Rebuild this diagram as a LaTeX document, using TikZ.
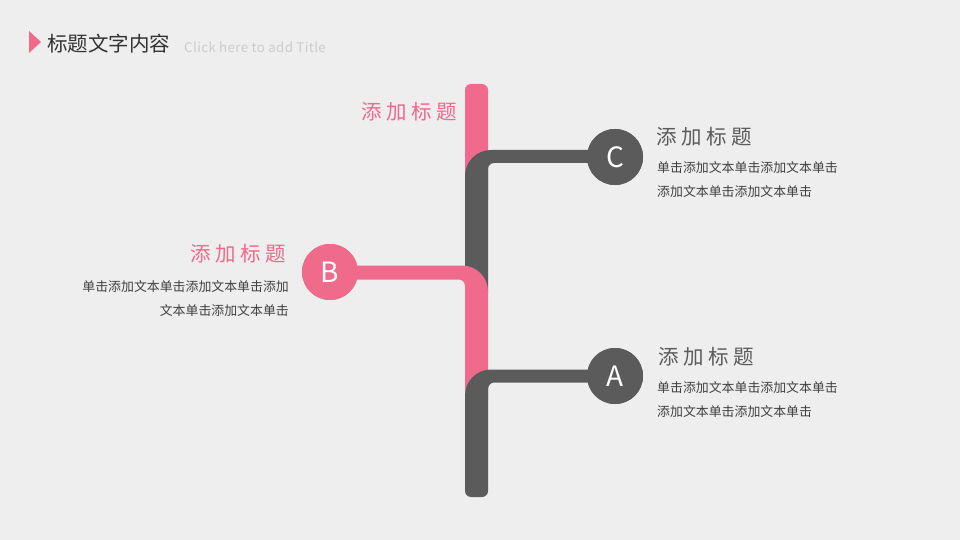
\documentclass[tikz,border=0pt]{standalone}
\usepackage{fontspec}
\setmainfont{Noto Sans CJK SC}
\newfontfamily\cjksp[LetterSpace=22]{Noto Sans CJK SC}
\newfontfamily\latsp[LetterSpace=3]{Noto Sans CJK SC}
\definecolor{pinkc}{HTML}{F06A8B}
\definecolor{grayc}{HTML}{5B5B5B}
\definecolor{bgc}{HTML}{EEEEEE}
\definecolor{bodyc}{HTML}{404040}
\tikzset{
  x=1pt,y=-1pt,
  dot/.style={circle,minimum size=56pt,inner sep=0pt,text=white,font=\fontsize{28}{28}\selectfont},
  head/.style={inner sep=0pt,font=\cjksp\fontsize{20.5}{20.5}\selectfont},
  body/.style={inner sep=0pt,text=bodyc,font=\fontsize{12.9}{24.5}\selectfont,align=left},
}
\begin{document}
\begin{tikzpicture}
\fill[bgc] (0,0) rectangle (960,540);
\useasboundingbox (0,0) rectangle (960,540);
% title
\fill[pinkc] (29,31) -- (41,42) -- (29,53) -- cycle;
\node[anchor=west,inner sep=0pt,text=black!80,font=\fontsize{20.5}{20.5}\selectfont] (ttl) at (47,44) {标题文字内容};
\node[anchor=west,inner sep=0pt,text=black!20,font=\latsp\fontsize{13.3}{13.3}\selectfont] (sub) at (184,47) {Click here to add Title};
% spine pieces
\fill[pinkc] (465,200) -- (465,90) .. controls (465,86.7) and (467.7,84) .. (471,84) -- (482,84) .. controls (485.3,84) and (488,86.7) .. (488,90) -- (488,200) -- cycle;
\node[dot,fill=grayc] (C) at (615,157) {C};
\node[dot,fill=pinkc] (B) at (330,272) {B};
\node[dot,fill=grayc] (A) at (615,376) {A};
\fill[grayc] (465,293) -- (465,176) .. controls (465,161.6) and (476.6,150) .. (491,150) -- (615,150) -- (615,163) -- (494,163) .. controls (490.7,163) and (488,165.7) .. (488,169) -- (488,293) -- cycle;
\node[dot,fill=grayc] at (C) {C};
\fill[pinkc] (330,265.5) -- (462,265.5) .. controls (476.4,265.5) and (488,277.1) .. (488,291.5) -- (488,400) -- (465,400) -- (465,286) .. controls (465,282.7) and (462.3,279.5) .. (459,279.5) -- (330,279.5) -- cycle;
\node[dot,fill=pinkc] at (B) {B};
\fill[grayc] (615,369.5) -- (491,369.5) .. controls (476.6,369.5) and (465,381.1) .. (465,395.5) -- (465,491) .. controls (465,494.3) and (467.7,497) .. (471,497) -- (482,497) .. controls (485.3,497) and (488,494.3) .. (488,491) -- (488,389) .. controls (488,385.7) and (490.7,382.5) .. (494,382.5) -- (615,382.5) -- cycle;
\node[dot,fill=grayc] at (A) {A};
% texts
\node[head,text=pinkc,anchor=east] (t0) at (457,112) {添加标题};
\node[head,text=grayc,anchor=west] (tC) at (656,137) {添加标题};
\node[body,anchor=north west] (bC) at (657,161) {单击添加文本单击添加文本单击\\添加文本单击添加文本单击};
\node[head,text=pinkc,anchor=east] (tB) at (286,254) {添加标题};
\node[body,anchor=north east,align=right] (bB) at (289,280) {单击添加文本单击添加文本单击添加\\文本单击添加文本单击};
\node[head,text=grayc,anchor=west] (tA) at (658,357) {添加标题};
\node[body,anchor=north west] (bA) at (657,381) {单击添加文本单击添加文本单击\\添加文本单击添加文本单击};
\end{tikzpicture}
\end{document}
